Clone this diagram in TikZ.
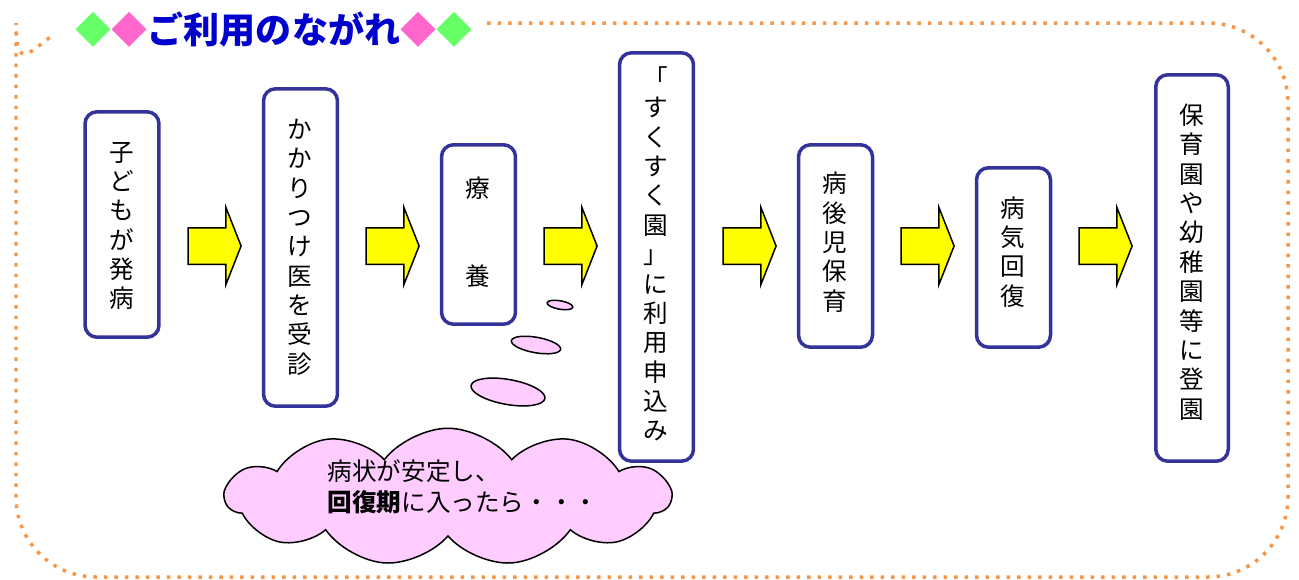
\documentclass[tikz,border=0pt]{standalone}
\usepackage{fontspec}
\setmainfont{Noto Sans CJK JP}
\usetikzlibrary{positioning,shapes.geometric,shapes.symbols,shapes.arrows}
\definecolor{boxblue}{RGB}{51,51,153}
\definecolor{dotorange}{RGB}{247,150,70}
\definecolor{titleblue}{RGB}{0,0,204}
\definecolor{dgreen}{RGB}{102,255,102}
\definecolor{dpink}{RGB}{255,102,204}
\definecolor{cloudpink}{RGB}{255,204,255}
\definecolor{arrowyellow}{RGB}{255,255,0}
\tikzset{
  flowbox/.style={draw=boxblue, line width=0.07cm, rounded corners=0.24cm, fill=white, minimum width=1.48cm, inner sep=0},
  tate/.style={align=center, inner sep=0, font=\fontsize{14pt}{16.7pt}\selectfont},
  nextarrow/.style={single arrow, draw=black, fill=arrowyellow, line width=0.03cm, minimum height=1.06cm, inner xsep=0, inner ysep=0.35cm, single arrow head extend=0.41cm, single arrow tip angle=137},
  bubble/.style={ellipse, draw=black, fill=cloudpink, line width=0.03cm, inner sep=0, rotate=-10},
  dotline/.style={draw=dotorange, line width=0.07cm, dash pattern=on 0.07cm off 0.14cm},
}
\begin{document}
\begin{tikzpicture}[x=0.02cm, y=-0.02cm]
\useasboundingbox (0,0) rectangle (1299,579);
% frame
\draw[dotline, rounded corners=1.6cm] (487,23) -- (1288,23) -- (1288,577) -- (16,577) -- (16,103) [sharp corners] .. controls (16,75) and (31,49) .. (55,34);
\node[font=\fontsize{20.5pt}{24pt}\selectfont\bfseries, text=titleblue, inner sep=0] (title) at (274,30) {{\color{dgreen}◆}{\color{dpink}◆}ご利用のながれ{\color{dpink}◆}{\color{dgreen}◆}};

% steps
\node[flowbox, minimum height=4.51cm] (b1) at (122,224.5) {}; % sick
\node[flowbox, minimum height=6.35cm] (b2) at (300.5,247.5) {}; % doctor
\node[flowbox, minimum height=3.59cm] (b3) at (478.5,234.5) {}; % rest
\node[flowbox, minimum height=8.17cm] (b4) at (656.5,257) {}; % apply
\node[flowbox, minimum height=4.05cm] (b5) at (835.5,246) {}; % care
\node[flowbox, minimum height=3.59cm] (b6) at (1013.5,257.5) {}; % recovered
\node[flowbox, minimum height=7.73cm, minimum width=1.45cm] (b7) at (1192,268) {}; % back
\node[tate] (t1) at (122,226) {子\\ど\\も\\が\\発\\病};
\node[tate] (t2) at (300,247) {か\\か\\り\\つ\\け\\医\\を\\受\\診};
\node[tate] (t3) at (478,232) {療\\　\\　\\養};
\node[tate] (t4) at (656,254) {「\\す\\く\\す\\く\\園\\」\\に\\利\\用\\申\\込\\み};
\node[tate] (t5) at (835,242) {病\\後\\児\\保\\育};
\node[tate] (t6) at (1013,252) {病\\気\\回\\復};
\node[tate] (t7) at (1192,262) {保\\育\\園\\や\\幼\\稚\\園\\等\\に\\登\\園};

% arrows
\node[nextarrow] (a1) at (211,246) {};
\node[nextarrow] (a2) at (389,246) {};
\node[nextarrow] (a3) at (567,246) {};
\node[nextarrow] (a4) at (746,246) {};
\node[nextarrow] (a5) at (924,246) {};
\node[nextarrow] (a6) at (1102,246) {};

% thought
\node[bubble, minimum width=0.52cm, minimum height=0.17cm] (e1) at (560,305) {};
\node[bubble, minimum width=1.0cm, minimum height=0.31cm] (e2) at (536,345) {};
\node[bubble, minimum width=1.5cm, minimum height=0.5cm] (e3) at (508,392) {};
\node[cloud, cloud puffs=11, cloud puff arc=105, aspect=3.2, draw=black, fill=cloudpink, line width=0.03cm, minimum width=8.9cm, minimum height=2.75cm] (cl) at (448,497) {};
\node[align=left, inner sep=0, font=\fontsize{14pt}{17.6pt}\selectfont] (ct) at (463,487) {病状が安定し、\\\textbf{回復期}に入ったら・・・};
\end{tikzpicture}
\end{document}
